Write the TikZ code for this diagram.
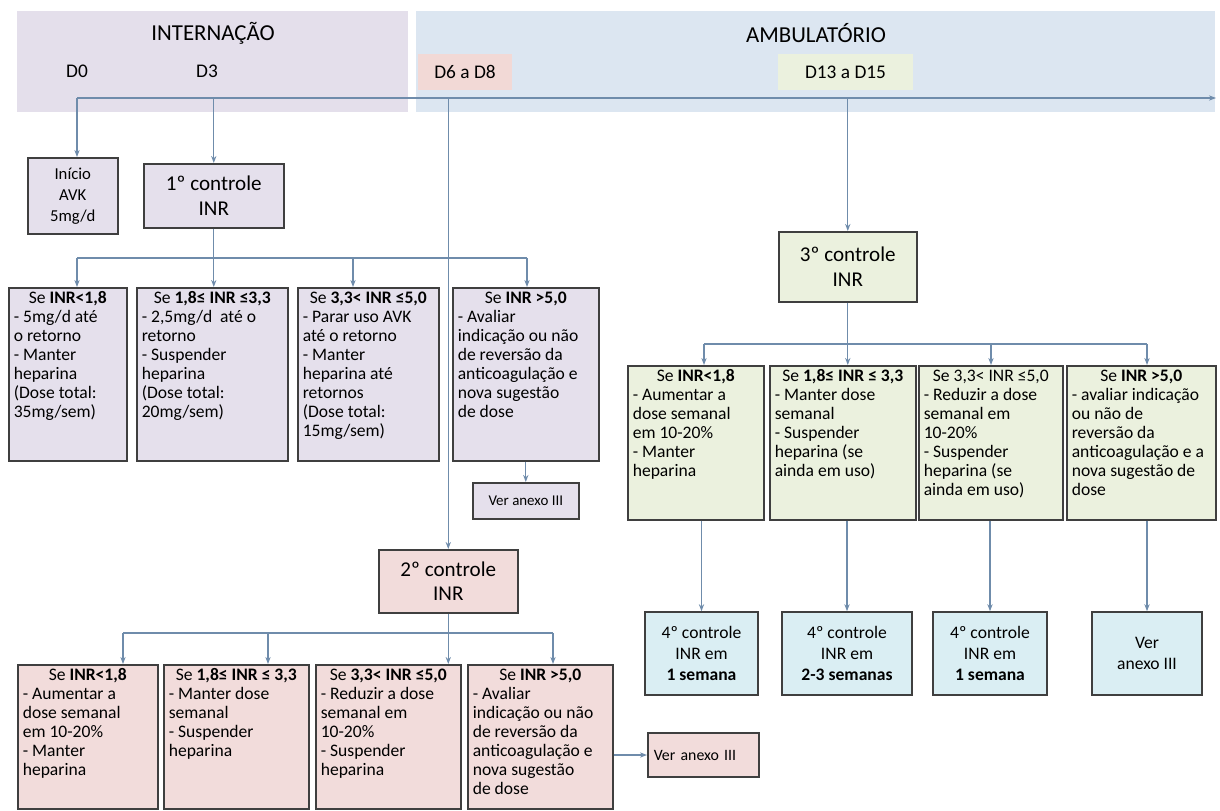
\documentclass[tikz,border=0pt]{standalone}
\usepackage{fontspec}
\setmainfont{Carlito}
\usepackage{tikz}
\usetikzlibrary{arrows.meta,positioning}

\definecolor{bandl}{HTML}{E4DFEB}
\definecolor{bandr}{HTML}{DCE6F1}
\definecolor{lav}{HTML}{E5E0EC}
\definecolor{rosa}{HTML}{F2DCDB}
\definecolor{rosad}{HTML}{F2D9D6}
\definecolor{verde}{HTML}{EBF1DE}
\definecolor{azul}{HTML}{DAEEF3}
\definecolor{borda}{HTML}{3F3F3F}
\definecolor{linha}{HTML}{6F8CAB}

\newlength\px
\setlength\px{0.02cm}
\newcommand\cell[3]{\parbox[c][\dimexpr#2\px-8\px\relax][t]{\dimexpr#1\px-10\px\relax}{#3}}

\begin{document}
\begin{tikzpicture}[x=0.02cm, y=-0.02cm,
    band/.style={draw=none, anchor=north west, inner sep=0pt},
    hd/.style={font=\fontsize{13}{15}\selectfont},
    dl/.style={font=\fontsize{11}{13}\selectfont, inner sep=0pt},
    dbox/.style={draw=none, font=\fontsize{11}{13}\selectfont, minimum height=0.72cm},
    ctl/.style={draw=borda, line width=0.9pt, align=center, anchor=north west,
                font=\fontsize{12}{14}\selectfont},
    cond/.style={draw=borda, line width=0.9pt, anchor=north west, inner xsep=0.1cm,
                 inner ysep=0.08cm, font=\fontsize{10}{10.8}\selectfont},
    bbox/.style={draw=borda, line width=0.9pt, fill=azul, align=center,
                 minimum height=1.66cm, font=\fontsize{10}{12}\selectfont},
    ln/.style={draw=linha, line width=0.7pt},
    arr/.style={ln, -{Stealth[length=4pt,width=3pt]}}
  ]
  \useasboundingbox (0,0) rectangle (1220,811);

  % cabecalho
  \node[band, fill=bandl, minimum width=7.82cm, minimum height=2.02cm] (hint) at (17,11) {};
  \node[band, fill=bandr, minimum width=15.98cm, minimum height=2.02cm] (hamb) at (416,11) {};
  \node[hd] (tint) at (213,33) {INTERNAÇÃO};
  \node[hd] (tamb) at (816,33) {AMBULATÓRIO};
  \node[dl] (d0) at (77,71) {D0};
  \node[dl] (d3) at (207,71) {D3};
  \node[dbox, fill=rosad, minimum width=1.88cm] (d68) at (465,72) {D6 a D8};
  \node[dbox, fill=verde, minimum width=2.7cm] (d1315) at (845.5,72) {D13 a D15};

  \coordinate (t0) at (77,98);
  \coordinate (t1) at (1216,98);
  \draw[arr] (t0) -- (t1);

  % internacao
  \node[ctl, fill=lav, minimum width=1.8cm, minimum height=1.52cm,
        font=\fontsize{9.5}{12}\selectfont] (inicio) at (27,157) {Início\\AVK\\5mg/d};
  \node[ctl, fill=lav, minimum width=2.8cm, minimum height=1.28cm] (ctl1) at (143,163) {1º controle\\INR};

  \node[cond, fill=lav] (r1a) at (8,287) {\cell{118}{173}{\centering Se \textbf{INR<1,8}\par\raggedright
    - 5mg/d até\\o retorno\\- Manter\\heparina\\(Dose total:\\35mg/sem)}};
  \node[cond, fill=lav] (r1b) at (136,287) {\cell{151}{173}{\centering Se \textbf{1,8≤ INR ≤3,3}\par\raggedright
    - 2,5mg/d~ até o\\retorno\\- Suspender\\heparina\\(Dose total:\\20mg/sem)}};
  \node[cond, fill=lav] (r1c) at (297,287) {\cell{141}{173}{\centering Se \textbf{3,3< INR ≤5,0}\par\raggedright
    - Parar uso AVK\\até o retorno\\- Manter\\heparina até\\retornos\\(Dose total:\\15mg/sem)}};
  \node[cond, fill=lav] (r1d) at (452,287) {\cell{146}{173}{\centering Se \textbf{INR >5,0}\par\raggedright
    - Avaliar\\indicação ou não\\de reversão da\\anticoagulação e\\nova sugestão\\de dose}};
  \node[ctl, fill=lav, minimum width=2.12cm, minimum height=0.72cm,
        font=\fontsize{8.5}{10}\selectfont] (verl) at (472,482) {Ver anexo III};

  \coordinate (j1a) at (77,258);
  \coordinate (j1c) at (353,258);
  \coordinate (j1d) at (527,258);
  \draw[arr] (t0) -- (t0 |- inicio.north);
  \draw[arr] (ctl1.north |- t0) -- (ctl1.north);
  \draw[ln] (ctl1.south) -- (ctl1.south |- j1a);
  \draw[ln] (j1a) -- (j1d);
  \draw[arr] (j1a) -- (j1a |- r1a.north);
  \draw[arr] (ctl1.south |- j1a) -- (ctl1.south |- r1b.north);
  \draw[arr] (j1c) -- (j1c |- r1c.north);
  \draw[arr] (j1d) -- (j1d |- r1d.north);
  \draw[arr] (verl.north |- r1d.south) -- (verl.north);

  % segundo controle
  \node[ctl, fill=rosa, minimum width=2.78cm, minimum height=1.26cm] (ctl2) at (378,549) {2º controle\\INR};
  \node[cond, fill=rosa] (r2a) at (17,664) {\cell{140}{144}{\centering Se \textbf{INR<1,8}\par\raggedright
    - Aumentar a\\dose semanal\\em 10-20\%\\- Manter\\heparina}};
  \node[cond, fill=rosa] (r2b) at (163,664) {\cell{145}{144}{\centering Se \textbf{1,8≤ INR ≤ 3,3}\par\raggedright
    - Manter dose\\semanal\\- Suspender\\heparina}};
  \node[cond, fill=rosa] (r2c) at (315,664) {\cell{145}{144}{\centering Se \textbf{3,3< INR ≤5,0}\par\raggedright
    - Reduzir a dose\\semanal em\\10-20\%\\- Suspender\\heparina}};
  \node[cond, fill=rosa] (r2d) at (467,664) {\cell{145}{144}{\centering Se \textbf{INR >5,0}\par\raggedright
    - Avaliar\\indicação ou não\\de reversão da\\anticoagulação e\\nova sugestão\\de dose}};
  \node[ctl, fill=rosa, anchor=west, text width=1.98cm, align=left, inner xsep=0.12cm,
        minimum height=0.88cm, font=\fontsize{9}{11}\selectfont] (verp) at (647,755) {Ver anexo III};

  \coordinate (j2a) at (123,633);
  \coordinate (j2b) at (268,633);
  \coordinate (j2d) at (553,633);
  \draw[arr] (ctl2.north |- t0) -- (ctl2.north);
  \draw[ln] (ctl2.south) -- (ctl2.south |- j2a);
  \draw[ln] (j2a) -- (j2d);
  \draw[arr] (j2a) -- (j2a |- r2a.north);
  \draw[arr] (j2b) -- (j2b |- r2b.north);
  \draw[arr] (ctl2.south |- j2a) -- (ctl2.south |- r2c.north);
  \draw[arr] (j2d) -- (j2d |- r2d.north);
  \draw[arr] (verp.west -| r2d.east) -- (verp.west);

  % ambulatorio
  \node[ctl, fill=verde, minimum width=2.76cm, minimum height=1.4cm] (ctl3) at (778,231) {3º controle\\INR};
  \node[cond, fill=verde] (r3a) at (627,365) {\cell{136}{154}{\centering Se \textbf{INR<1,8}\par\raggedright
    - Aumentar a\\dose semanal\\em 10-20\%\\- Manter\\heparina}};
  \node[cond, fill=verde] (r3b) at (769,365) {\cell{146}{154}{\centering Se \textbf{1,8≤ INR ≤ 3,3}\par\raggedright
    - Manter dose\\semanal\\- Suspender\\heparina (se\\ainda em uso)}};
  \node[cond, fill=verde] (r3c) at (918,365) {\cell{144}{154}{\centering Se 3,3< INR ≤5,0\par\raggedright
    - Reduzir a dose\\semanal em\\10-20\%\\- Suspender\\heparina (se\\ainda em uso)}};
  \node[cond, fill=verde] (r3d) at (1066,365) {\cell{149}{154}{\centering Se \textbf{INR >5,0}\par\raggedright
    - avaliar indicação\\ou não de\\reversão da\\anticoagulação e a\\nova sugestão de\\dose}};

  \node[bbox, minimum width=2.26cm] (q1) at (701.5,653.5) {4º controle\\INR em\\\textbf{1 semana}};
  \node[bbox, minimum width=2.6cm] (q2) at (847,653.5) {4º controle\\INR em\\\textbf{2-3 semanas}};
  \node[bbox, minimum width=2.28cm] (q3) at (990,653.5) {4º controle\\INR em\\\textbf{1 semana}};
  \node[bbox, minimum width=2.2cm] (q4) at (1147,653.5) {Ver\\anexo III};

  \coordinate (j3a) at (704,344);
  \coordinate (j3c) at (991,344);
  \coordinate (j3d) at (1147,344);
  \draw[arr] (ctl3.north |- t0) -- (ctl3.north);
  \draw[ln] (ctl3.south) -- (ctl3.south |- j3a);
  \draw[ln] (j3a) -- (j3d);
  \draw[arr] (j3a) -- (j3a |- r3a.north);
  \draw[arr] (ctl3.south |- j3a) -- (ctl3.south |- r3b.north);
  \draw[arr] (j3c) -- (j3c |- r3c.north);
  \draw[arr] (j3d) -- (j3d |- r3d.north);
  \draw[arr] (q1.north |- r3a.south) -- (q1.north);
  \draw[arr] (q2.north |- r3b.south) -- (q2.north);
  \draw[arr] (q3.north |- r3c.south) -- (q3.north);
  \draw[arr] (q4.north |- r3d.south) -- (q4.north);
\end{tikzpicture}
\end{document}
